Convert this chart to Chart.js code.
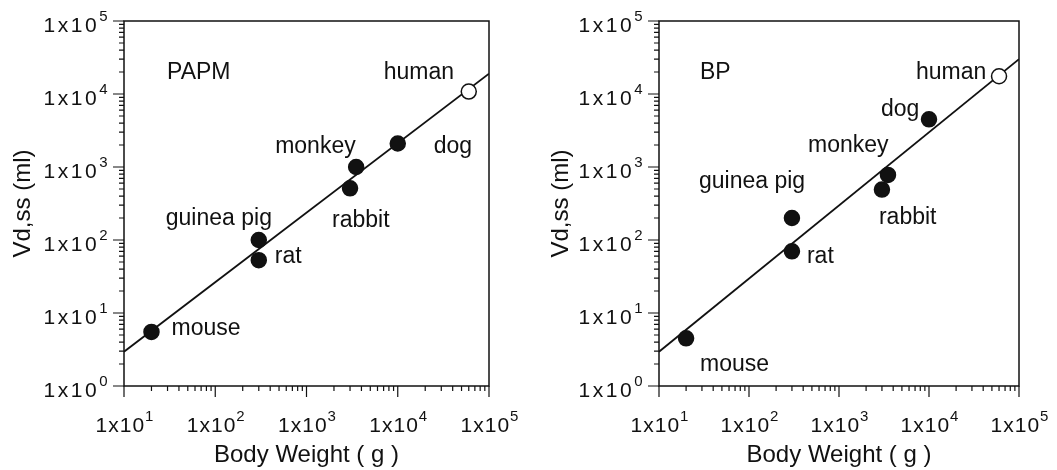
<!DOCTYPE html>
<html>
<head>
<meta charset="utf-8">
<script src="https://cdn.jsdelivr.net/npm/chart.js@4.4.1/dist/chart.umd.min.js"></script>
<style>
  html, body { margin: 0; padding: 0; background: #fff; }
  #wrap { position: relative; width: 1057px; height: 470px; }
  canvas { position: absolute; top: 0; }
</style>
</head>
<body>
<div id="wrap">
  <canvas id="papmChart" width="528" height="470" style="left:0"></canvas>
  <canvas id="bpChart" width="529" height="470" style="left:528px"></canvas>
</div>
<script>
// values
var animals = ['mouse', 'rat', 'guinea pig', 'rabbit', 'monkey', 'dog', 'human'];
var bodyWeight = [20, 300, 300, 3000, 3500, 10000, 60000];
var papmVd = [5.5, 53, 100, 510, 1000, 2100, 10800];
var bpVd = [4.5, 70, 200, 490, 780, 4500, 17500];

// fitted lines (end points)
var fitWeight = [10, 100000];
var papmFit = [2.95, 19000];
var bpFit = [2.95, 30000];

// tick labels (powers of ten)
var xTickExp = [1, 2, 3, 4, 5];
var yTickExp = [0, 1, 2, 3, 4, 5];

var FONT = '"Liberation Sans", Arial, Helvetica, sans-serif';
var INK = '#111';

function pairs(xs, ys) {
    return xs.map(function (x, i) { return { x: x, y: ys[i] }; });
}

// "1x10" with the exponent raised
function drawPow(ctx, exp, x, y, align, spacing) {
    ctx.letterSpacing = spacing + 'px';
    ctx.font = '21px ' + FONT;
    var w1 = ctx.measureText('1x10').width;
    ctx.font = '15px ' + FONT;
    var w2 = ctx.measureText(String(exp)).width;
    var total = w1 + w2;
    var start = align === 'center' ? x - total / 2 : x - total;
    ctx.textAlign = 'left';
    ctx.textBaseline = 'alphabetic';
    ctx.font = '21px ' + FONT;
    ctx.fillText('1x10', start, y);
    ctx.font = '15px ' + FONT;
    ctx.fillText(String(exp), start + w1, y - 11);
    ctx.letterSpacing = '0px';
}

var framePlugin = {
    id: 'frame',
    afterDraw: function (chart, args, opts) {
        var ctx = chart.ctx, a = chart.chartArea;
        var xs = chart.scales.x, ys = chart.scales.y;
        ctx.save();
        ctx.strokeStyle = INK;
        ctx.fillStyle = INK;

        // box
        ctx.lineWidth = 1.5;
        ctx.strokeRect(a.left, a.top, a.right - a.left, a.bottom - a.top);

        // ticks, pointing out
        ctx.lineWidth = 1.2;
        ctx.beginPath();
        xTickExp.forEach(function (e, k) {
            var px = xs.getPixelForValue(Math.pow(10, e));
            ctx.moveTo(px, a.bottom);
            ctx.lineTo(px, a.bottom + 11);
            if (k < xTickExp.length - 1) {
                for (var m = 2; m <= 9; m++) {
                    var mx = xs.getPixelForValue(m * Math.pow(10, e));
                    ctx.moveTo(mx, a.bottom);
                    ctx.lineTo(mx, a.bottom + 5);
                }
            }
        });
        yTickExp.forEach(function (e, k) {
            var py = ys.getPixelForValue(Math.pow(10, e));
            ctx.moveTo(a.left, py);
            ctx.lineTo(a.left - 11, py);
            if (k < yTickExp.length - 1) {
                for (var m = 2; m <= 9; m++) {
                    var my = ys.getPixelForValue(m * Math.pow(10, e));
                    ctx.moveTo(a.left, my);
                    ctx.lineTo(a.left - 5, my);
                }
            }
        });
        ctx.stroke();

        // tick labels
        xTickExp.forEach(function (e) {
            drawPow(ctx, e, xs.getPixelForValue(Math.pow(10, e)) + 1, a.bottom + 46, 'center', 1);
        });
        yTickExp.forEach(function (e) {
            drawPow(ctx, e, a.left - 14, ys.getPixelForValue(Math.pow(10, e)) + 11, 'right', 2.5);
        });

        // axis titles
        ctx.font = '24px ' + FONT;
        ctx.textAlign = 'center';
        ctx.textBaseline = 'alphabetic';
        ctx.fillText('Body Weight ( g )', (a.left + a.right) / 2, 462);
        ctx.save();
        ctx.translate(opts.yTitleX, (a.top + a.bottom) / 2);
        ctx.rotate(-Math.PI / 2);
        ctx.textBaseline = 'middle';
        ctx.fillText('Vd,ss (ml)', 0, 0);
        ctx.restore();

        // panel name and animal labels
        ctx.font = '23px ' + FONT;
        ctx.textAlign = 'left';
        ctx.textBaseline = 'middle';
        ctx.fillText(opts.title, a.left + opts.titleDx, a.top + 52);
        var pts = chart.data.datasets[0].data;
        animals.forEach(function (name, i) {
            var px = xs.getPixelForValue(pts[i].x);
            var py = ys.getPixelForValue(pts[i].y);
            ctx.fillText(name, px + opts.offsets[i][0], py + opts.offsets[i][1]);
        });
        ctx.restore();
    }
};

function makeChart(id, vd, fit, padding, extra) {
    var ctx = document.getElementById(id).getContext('2d');
    return new Chart(ctx, {
        type: 'scatter',
        data: {
            datasets: [{
                data: pairs(bodyWeight, vd),
                pointRadius: 7.5,
                pointHoverRadius: 7.5,
                pointBorderWidth: 1.5,
                pointBorderColor: INK,
                pointBackgroundColor: animals.map(function (a) { return a === 'human' ? '#fff' : INK; })
            }, {
                type: 'line',
                data: pairs(fitWeight, fit),
                showLine: true,
                fill: false,
                pointRadius: 0,
                borderColor: INK,
                borderWidth: 1.8
            }]
        },
        options: {
            responsive: false,
            animation: false,
            layout: { padding: padding },
            scales: {
                x: { type: 'logarithmic', min: 10, max: 100000, display: false },
                y: { type: 'logarithmic', min: 1, max: 100000, display: false }
            },
            plugins: {
                legend: { display: false },
                tooltip: { enabled: false },
                frame: extra
            }
        },
        plugins: [framePlugin]
    });
}

makeChart('papmChart', papmVd, papmFit,
    { left: 124, right: 39, top: 21, bottom: 84 },
    {
        title: 'PAPM', titleDx: 43, yTitleX: 23,
        offsets: [[20, -3], [16, -3], [-93, -21], [-18, 32], [-81, -20], [36, 3], [-85, -19]]
    });

makeChart('bpChart', bpVd, bpFit,
    { left: 131, right: 38, top: 21, bottom: 84 },
    {
        title: 'BP', titleDx: 41, yTitleX: 33,
        offsets: [[14, 26], [15, 5], [-93, -36], [-3, 28], [-80, -29], [-48, -10], [-83, -4]]
    });
</script>
</body>
</html>
